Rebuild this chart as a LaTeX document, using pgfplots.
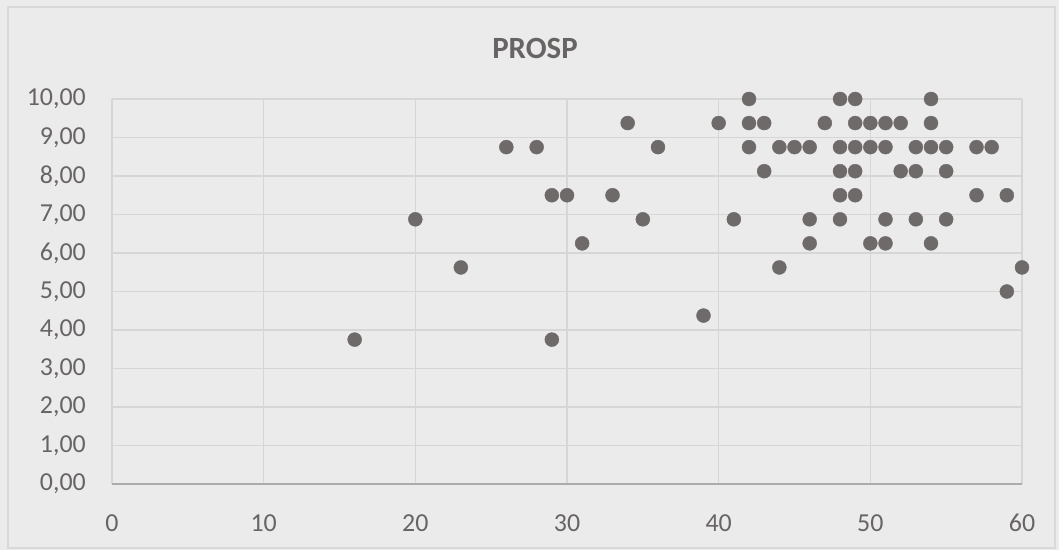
\documentclass[border=0pt]{standalone}
\usepackage{fontspec}
\setmainfont{Carlito}
\usepackage{pgfplots}
\pgfplotsset{compat=1.18}
\definecolor{bgc}{RGB}{235,235,235}
\definecolor{gridc}{RGB}{214,214,214}
\definecolor{framec}{RGB}{217,217,217}
\definecolor{txtc}{RGB}{104,100,100}
\definecolor{dotc}{RGB}{111,106,106}
\begin{document}
\begin{tikzpicture}
  % chart area: picture is 1059 x 550 bp, axis box sits at px (112,484)
  \fill[bgc] (-112bp,-66bp) rectangle (947bp,484bp);
  \draw[framec, line width=1.2bp] (-104bp,-64bp) rectangle (943bp,477bp);
  \node[txtc, font=\fontsize{31}{31}\selectfont\bfseries] at (423bp,436bp) {PROSP};
  \begin{axis}[
      scale only axis,
      width=910bp,
      height=385bp,
      xmin=0, xmax=60,
      ymin=0, ymax=10,
      xtick={0,10,...,60},
      ytick={0,1,...,10},
      grid=major,
      major grid style={gridc, line width=1.3bp},
      axis line style={draw=none},
      major tick length=0pt,
      tick style={draw=none},
      ticklabel style={txtc, font=\fontsize{26}{26}\selectfont, inner sep=0pt},
      xticklabel style={anchor=north, yshift=-30bp},
      yticklabel style={anchor=east, xshift=-26bp,
        /pgf/number format/.cd, fixed, fixed zerofill, precision=2, use comma},
      /pgf/number format/assume math mode=true,
      clip=false,
    ]
    \draw[gridc!80!black, line width=1.6bp] (axis cs:0,0) -- (axis cs:60,0);
    \addplot[only marks, mark=*, mark size=7bp, dotc, mark options={draw=dotc, fill=dotc}] coordinates {
      (16,3.75) (20,6.875) (23,5.625) (26,8.75) (28,8.75) (29,7.5) (30,7.5)
      (29,3.75) (31,6.25) (33,7.5) (34,9.375) (35,6.875) (36,8.75) (39,4.375)
      (40,9.375) (41,6.875) (42,10) (42,9.375) (42,8.75) (43,9.375) (43,8.125)
      (44,5.625) (44,8.75) (45,8.75) (46,8.75) (46,6.875) (46,6.25) (47,9.375)
      (48,10) (48,8.75) (48,8.125) (48,7.5) (48,6.875)
      (49,10) (49,9.375) (49,8.75) (49,8.125) (49,7.5)
      (50,9.375) (50,8.75) (50,6.25)
      (51,9.375) (51,8.75) (51,6.875) (51,6.25)
      (52,9.375) (52,8.125)
      (53,8.75) (53,8.125) (53,6.875)
      (54,10) (54,9.375) (54,8.75) (54,6.25)
      (55,8.75) (55,8.125) (55,6.875)
      (57,8.75) (57,7.5) (58,8.75) (59,7.5) (59,5) (60,5.625)
    };
  \end{axis}
\end{tikzpicture}
\end{document}
